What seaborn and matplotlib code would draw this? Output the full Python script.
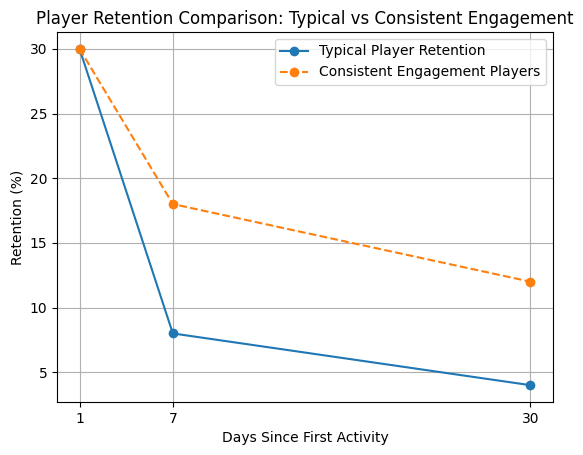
import matplotlib
matplotlib.use("Agg")
import matplotlib.pyplot as plt
import seaborn as sns
import pandas as pd

days = [1, 7, 30]
typical = [30, 8, 4]
consistent = [30, 18, 12]
series_names = ["Typical Player Retention", "Consistent Engagement Players"]

fig = plt.figure(figsize=(5.83, 4.55), dpi=100)
ax = fig.add_axes([57/583, 1 - 402/455, (553 - 57)/583, 370/455])

sns.lineplot(x=days, y=typical, marker='o', markeredgewidth=0, markersize=7,
             color='#1f77b4', label=series_names[0], ax=ax)
sns.lineplot(x=days, y=consistent, marker='o', markeredgewidth=0, markersize=7,
             color='#ff7f0e', linestyle='--', label=series_names[1], ax=ax)

ax.set_xticks(days)
ax.set_xticklabels([str(d) for d in days])
ax.set_title("Player Retention Comparison: Typical vs Consistent Engagement")
ax.set_xlabel("Days Since First Activity")
ax.set_ylabel("Retention (%)")
ax.grid(True)
ax.legend(loc='upper right')

fig.savefig("out.png", dpi=100)
